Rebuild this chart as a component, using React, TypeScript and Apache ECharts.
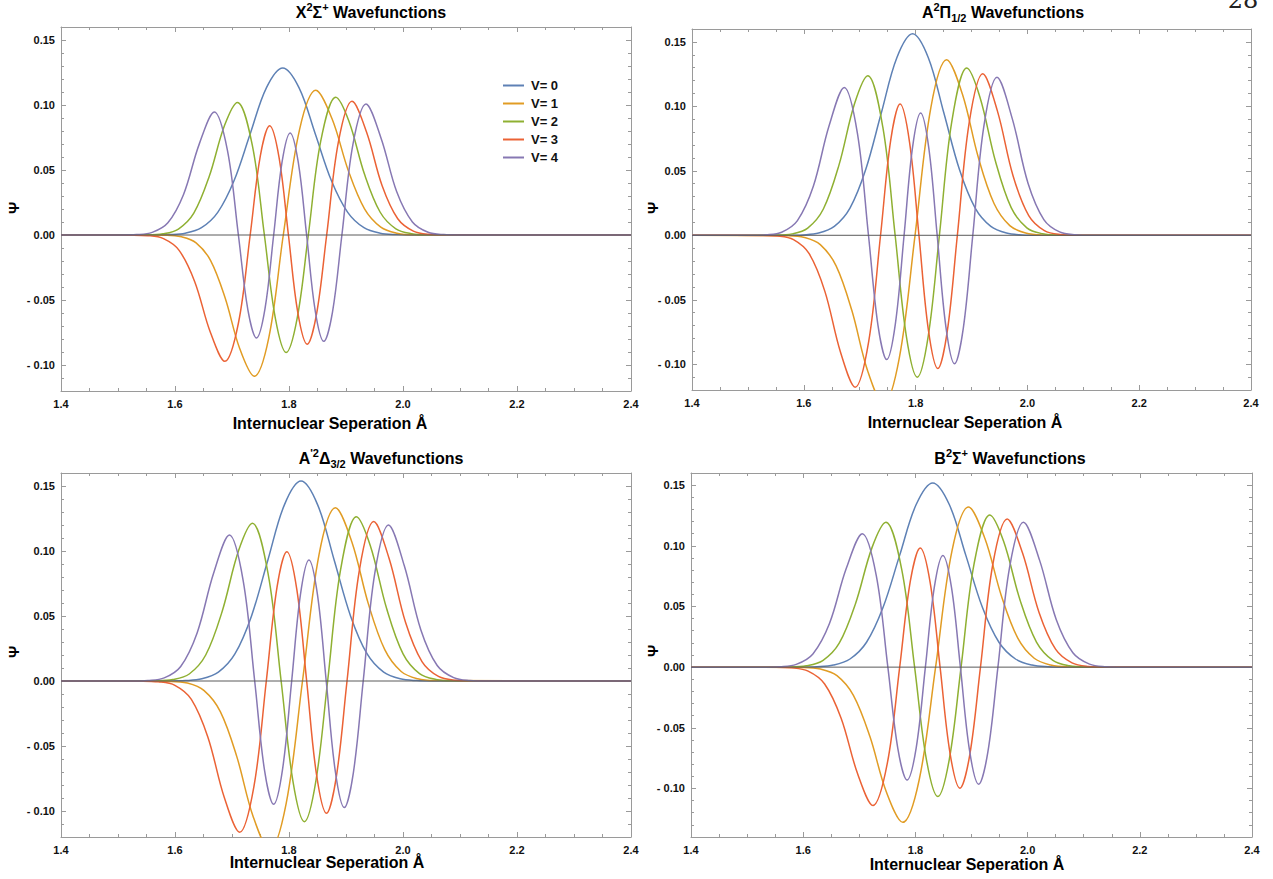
import React, { useEffect, useRef } from 'react';
import * as echarts from 'echarts';

// ---------- labels ----------
const legendNames = ['V= 0', 'V= 1', 'V= 2', 'V= 3', 'V= 4'];
const panelTitles = [
  '{b|X}{sup|2}{b|Σ}{sup|+}{b| Wavefunctions}',
  '{b|A}{sup|2}{b|Π}{sub|1/2}{b| Wavefunctions}',
  "{b|A}{sup|'2}{b|Δ}{sub|3/2}{b| Wavefunctions}",
  '{b|B}{sup|2}{b|Σ}{sup|+}{b| Wavefunctions}',
];
const xAxisTitle = 'Internuclear Seperation Å';
const yAxisTitle = 'Ψ';
const xRange = [1.4, 2.4];
const yRanges = [[-0.12, 0.16], [-0.12, 0.16], [-0.12, 0.16], [-0.14, 0.16]];

// ---------- X2Σ+ ----------
const xSigmaV0 = [[1.4,0],[1.561,0],[1.5895,0.0003],[1.618,0.0014],[1.6465,0.0056],[1.675,0.0174],[1.7035,0.0417],[1.732,0.0779],[1.7605,0.1134],[1.789,0.1285],[1.8175,0.1134],[1.846,0.0779],[1.8745,0.0417],[1.903,0.0174],[1.9315,0.0056],[1.96,0.0014],[1.9885,0.0003],[2.017,0],[2.4,0]];
const xSigmaV1 = [[1.4,0],[1.586,-0.0002],[1.6115,-0.0014],[1.637,-0.006],[1.6625,-0.0197],[1.688,-0.0485],[1.7135,-0.0873],[1.739,-0.1087],[1.7645,-0.0791],[1.79,0],[1.8185,0.081],[1.847,0.1113],[1.8755,0.0894],[1.904,0.0496],[1.9325,0.0201],[1.961,0.0061],[1.9895,0.0014],[2.018,0.0002],[2.4,0]];
const xSigmaV2 = [[1.4,0],[1.552,0.0001],[1.579,0.0009],[1.606,0.0046],[1.633,0.0168],[1.66,0.045],[1.687,0.0844],[1.7096,0.102],[1.7356,0.0691],[1.7568,0],[1.7761,-0.0641],[1.795,-0.0903],[1.8143,-0.0641],[1.8339,0],[1.8555,0.0718],[1.882,0.106],[1.905,0.0877],[1.9325,0.0467],[1.96,0.0175],[1.9875,0.0048],[2.015,0.001],[2.0425,0.0001],[2.4,0]];
const xSigmaV3 = [[1.4,0],[1.525,-0.0001],[1.5524,-0.0005],[1.5798,-0.0028],[1.6072,-0.0118],[1.6346,-0.0359],[1.662,-0.0748],[1.6875,-0.0972],[1.7113,-0.0677],[1.7319,0],[1.7497,0.0609],[1.766,0.084],[1.7826,0.0595],[1.799,0],[1.8154,-0.0595],[1.832,-0.084],[1.8483,-0.0609],[1.8661,0],[1.8867,0.0716],[1.9105,0.1028],[1.936,0.0792],[1.9634,0.0379],[1.9908,0.0125],[2.0182,0.003],[2.0456,0.0005],[2.073,0.0001],[2.4,0]];
const xSigmaV4 = [[1.4,0],[1.505,0],[1.5325,0.0003],[1.56,0.002],[1.5875,0.0094],[1.615,0.0312],[1.6425,0.0699],[1.669,0.0946],[1.692,0.0651],[1.7112,0],[1.7278,-0.0574],[1.7429,-0.0792],[1.758,-0.0564],[1.7731,0],[1.7877,0.0558],[1.802,0.0785],[1.8163,0.0558],[1.8309,0],[1.846,-0.0583],[1.8611,-0.0818],[1.8763,-0.0593],[1.8928,0],[1.912,0.0694],[1.935,0.1008],[1.9615,0.0745],[1.989,0.0332],[2.0165,0.01],[2.044,0.0021],[2.0715,0.0003],[2.099,0],[2.4,0]];

// ---------- A2Π1/2 ----------
const aPiV0 = [[1.4,0],[1.5706,0],[1.5986,0.0003],[1.6266,0.0017],[1.6546,0.0069],[1.6826,0.0211],[1.7106,0.0508],[1.7386,0.0948],[1.7666,0.1379],[1.7946,0.1563],[1.8226,0.1379],[1.8506,0.0948],[1.8786,0.0508],[1.9066,0.0211],[1.9346,0.0069],[1.9626,0.0017],[1.9906,0.0003],[2.0186,0],[2.4,0]];
const aPiV1 = [[1.4,0],[1.573,-0.0003],[1.6013,-0.0017],[1.6295,-0.0072],[1.6578,-0.0237],[1.686,-0.0584],[1.7143,-0.1052],[1.7425,-0.131],[1.7708,-0.0953],[1.799,0],[1.8273,0.0991],[1.8555,0.1362],[1.8838,0.1094],[1.912,0.0607],[1.9403,0.0247],[1.9685,0.0075],[1.9968,0.0017],[2.025,0.0003],[2.4,0]];
const aPiV2 = [[1.4,0],[1.551,0.0002],[1.579,0.0011],[1.607,0.0056],[1.635,0.0204],[1.663,0.0546],[1.691,0.1024],[1.7145,0.1238],[1.7414,0.0838],[1.7634,0],[1.7834,-0.0782],[1.803,-0.1101],[1.8226,-0.0782],[1.8426,0],[1.8646,0.0878],[1.8915,0.1297],[1.915,0.1073],[1.943,0.0572],[1.971,0.0214],[1.999,0.0058],[2.027,0.0012],[2.055,0.0002],[2.4,0]];
const aPiV3 = [[1.4,0],[1.5255,-0.0001],[1.5535,-0.0006],[1.5816,-0.0034],[1.6096,-0.0143],[1.6377,-0.0435],[1.6657,-0.0907],[1.6919,-0.1178],[1.7162,-0.082],[1.7373,0],[1.7555,0.0738],[1.7722,0.1018],[1.7892,0.0721],[1.806,0],[1.8228,-0.0732],[1.8398,-0.1034],[1.8565,-0.075],[1.8747,0],[1.8958,0.0872],[1.9201,0.1253],[1.9463,0.0965],[1.9743,0.0462],[2.0024,0.0152],[2.0304,0.0036],[2.0585,0.0006],[2.0865,0.0001],[2.4,0]];
const aPiV4 = [[1.4,0],[1.5039,0],[1.5321,0.0004],[1.5604,0.0024],[1.5886,0.0114],[1.6169,0.0378],[1.6451,0.0847],[1.6724,0.1147],[1.696,0.0789],[1.7157,0],[1.7327,-0.0698],[1.7483,-0.0964],[1.7638,-0.0687],[1.7794,0],[1.7943,0.0674],[1.809,0.0948],[1.8237,0.0674],[1.8386,0],[1.8542,-0.071],[1.8697,-0.0997],[1.8853,-0.0722],[1.9023,0],[1.922,0.0843],[1.9456,0.1225],[1.9729,0.0905],[2.0011,0.0404],[2.0294,0.0122],[2.0576,0.0026],[2.0859,0.0004],[2.1141,0],[2.4,0]];

// ---------- A'2Δ3/2 ----------
const aDeltaV0 = [[1.4,0],[1.5891,0],[1.6181,0.0003],[1.6471,0.0017],[1.6761,0.0068],[1.7051,0.0208],[1.7341,0.0499],[1.7631,0.0933],[1.7921,0.1357],[1.8211,0.1538],[1.8501,0.1357],[1.8791,0.0933],[1.9081,0.0499],[1.9371,0.0208],[1.9661,0.0068],[1.9951,0.0017],[2.0241,0.0003],[2.0531,0],[2.4,0]];
const aDeltaV1 = [[1.4,0],[1.5929,-0.0003],[1.6218,-0.0016],[1.6506,-0.0072],[1.6795,-0.0235],[1.7083,-0.058],[1.7372,-0.1044],[1.766,-0.13],[1.7949,-0.0946],[1.8237,0],[1.8526,0.097],[1.8814,0.1333],[1.9103,0.107],[1.9391,0.0595],[1.968,0.0241],[1.9968,0.0073],[2.0257,0.0017],[2.0545,0.0003],[2.4,0]];
const aDeltaV2 = [[1.4,0],[1.5673,0.0002],[1.5962,0.0011],[1.625,0.0054],[1.6539,0.02],[1.6827,0.0535],[1.7116,0.1003],[1.7358,0.1213],[1.7635,0.0821],[1.7862,0],[1.8068,-0.0768],[1.827,-0.1082],[1.8472,-0.0768],[1.8678,0],[1.8905,0.0856],[1.9182,0.1264],[1.9424,0.1045],[1.9713,0.0557],[2.0001,0.0209],[2.029,0.0057],[2.0578,0.0012],[2.0867,0.0002],[2.4,0]];
const aDeltaV3 = [[1.4,0],[1.542,-0.0001],[1.5709,-0.0006],[1.5998,-0.0033],[1.6287,-0.0141],[1.6576,-0.043],[1.6865,-0.0896],[1.7134,-0.1164],[1.7385,-0.081],[1.7602,0],[1.779,0.0722],[1.7962,0.0995],[1.8137,0.0705],[1.831,0],[1.8483,-0.0721],[1.8658,-0.1018],[1.883,-0.0738],[1.9018,0],[1.9235,0.0853],[1.9486,0.1226],[1.9755,0.0944],[2.0044,0.0452],[2.0333,0.0149],[2.0622,0.0035],[2.0911,0.0006],[2.12,0.0001],[2.4,0]];
const aDeltaV4 = [[1.4,0],[1.5234,0],[1.5523,0.0004],[1.5811,0.0024],[1.61,0.0112],[1.6388,0.037],[1.6677,0.0829],[1.6955,0.1123],[1.7196,0.0773],[1.7398,0],[1.7571,-0.0688],[1.773,-0.0949],[1.7888,-0.0676],[1.8047,0],[1.82,0.0662],[1.835,0.0931],[1.85,0.0662],[1.8653,0],[1.8812,-0.0694],[1.897,-0.0974],[1.9129,-0.0706],[1.9302,0],[1.9504,0.0826],[1.9745,0.12],[2.0023,0.0886],[2.0312,0.0395],[2.06,0.0119],[2.0889,0.0026],[2.1177,0.0004],[2.1466,0],[2.4,0]];

// ---------- B2Σ+ ----------
const bSigmaV0 = [[1.4,0],[1.5949,0],[1.6244,0.0003],[1.6539,0.0017],[1.6834,0.0067],[1.7129,0.0205],[1.7424,0.0493],[1.7719,0.0921],[1.8014,0.134],[1.8309,0.1518],[1.8604,0.134],[1.8899,0.0921],[1.9194,0.0493],[1.9489,0.0205],[1.9784,0.0067],[2.0079,0.0017],[2.0374,0.0003],[2.0669,0],[2.4,0]];
const bSigmaV1 = [[1.4,0],[1.6016,-0.0003],[1.6309,-0.0016],[1.6602,-0.007],[1.6895,-0.0232],[1.7188,-0.057],[1.7481,-0.1027],[1.7774,-0.1279],[1.8067,-0.093],[1.836,0],[1.8653,0.096],[1.8946,0.132],[1.9239,0.106],[1.9532,0.0589],[1.9825,0.0239],[2.0118,0.0073],[2.0411,0.0017],[2.0704,0.0003],[2.4,0]];
const bSigmaV2 = [[1.4,0],[1.5763,0.0002],[1.6056,0.0011],[1.6349,0.0054],[1.6642,0.0197],[1.6935,0.0527],[1.7228,0.0987],[1.7474,0.1194],[1.7755,0.0808],[1.7986,0],[1.8195,-0.0758],[1.84,-0.1067],[1.8605,-0.0758],[1.8814,0],[1.9045,0.0849],[1.9326,0.1254],[1.9572,0.1037],[1.9865,0.0553],[2.0158,0.0207],[2.0451,0.0056],[2.0744,0.0011],[2.1037,0.0002],[2.4,0]];
const bSigmaV3 = [[1.4,0],[1.55,-0.0001],[1.5794,-0.0006],[1.6088,-0.0033],[1.6382,-0.0139],[1.6676,-0.0421],[1.697,-0.0879],[1.7244,-0.1141],[1.7499,-0.0794],[1.772,0],[1.7911,0.0712],[1.8086,0.0982],[1.8264,0.0695],[1.844,0],[1.8616,-0.0706],[1.8794,-0.0998],[1.8969,-0.0723],[1.916,0],[1.9381,0.085],[1.9636,0.1221],[1.991,0.094],[2.0204,0.0451],[2.0498,0.0148],[2.0792,0.0035],[2.1086,0.0006],[2.138,0.0001],[2.4,0]];
const bSigmaV4 = [[1.4,0],[1.5282,0],[1.5579,0.0004],[1.5876,0.0023],[1.6173,0.0109],[1.647,0.0362],[1.6767,0.0812],[1.7054,0.11],[1.7302,0.0757],[1.7509,0],[1.7688,-0.0674],[1.7852,-0.093],[1.8015,-0.0663],[1.8178,0],[1.8336,0.0655],[1.849,0.0921],[1.8644,0.0655],[1.8802,0],[1.8965,-0.0687],[1.9128,-0.0965],[1.9292,-0.0699],[1.9471,0],[1.9678,0.0821],[1.9926,0.1194],[2.0213,0.0882],[2.051,0.0393],[2.0807,0.0119],[2.1104,0.0025],[2.1401,0.0004],[2.1698,0],[2.4,0]];

const panelData = [
  [xSigmaV0, xSigmaV1, xSigmaV2, xSigmaV3, xSigmaV4],
  [aPiV0, aPiV1, aPiV2, aPiV3, aPiV4],
  [aDeltaV0, aDeltaV1, aDeltaV2, aDeltaV3, aDeltaV4],
  [bSigmaV0, bSigmaV1, bSigmaV2, bSigmaV3, bSigmaV4],
];

// ---------- styling / layout ----------
const COLORS = ['#5E81B5', '#E19C24', '#8FB032', '#EB6235', '#8778B3'];
const NARROW = '"Liberation Sans Narrow", "Arial Narrow", "Liberation Sans", Arial, sans-serif';
const SANS = '"Liberation Sans", Arial, sans-serif';
const FRAME = '#9a9a9a';

const GRIDS = [
  { left: 61, top: 27, width: 570, height: 364 },
  { left: 692, top: 29, width: 559, height: 361 },
  { left: 61, top: 473, width: 570, height: 364 },
  { left: 691, top: 473, width: 561, height: 364 },
];
const TITLE_POS = [[371, 12], [1003, 12], [381, 458], [1010, 458]];
const XNAME_POS = [[330, 423], [965, 422], [327, 862], [967, 864]];
const YNAME_POS = [[13, 208], [652, 208], [13, 652], [652, 651]];

function yFmt(v: number) {
  if (Math.abs(v) < 1e-9) return '0.00';
  return v < 0 ? '- ' + Math.abs(v).toFixed(2) : v.toFixed(2);
}

function buildOption() {
  const grid: any[] = [];
  const xAxis: any[] = [];
  const yAxis: any[] = [];
  const series: any[] = [];
  const graphic: any[] = [];

  const tickCommon = {
    axisLine: { show: true, onZero: false, lineStyle: { color: FRAME, width: 1 } },
    axisTick: { show: true, inside: true, length: 5, lineStyle: { color: FRAME, width: 1 } },
    splitLine: { show: false },
  };

  const titleRich = {
    b: { fontSize: 16, fontWeight: 'bold', fontFamily: SANS, fill: '#000', lineHeight: 22 },
    sup: { fontSize: 11, fontWeight: 'bold', fontFamily: SANS, fill: '#000', lineHeight: 12, verticalAlign: 'top' },
    sub: { fontSize: 11, fontWeight: 'bold', fontFamily: SANS, fill: '#000', lineHeight: 12, verticalAlign: 'bottom' },
  };

  GRIDS.forEach((g, i) => {
    grid.push({ ...g, containLabel: false, outerBoundsMode: 'none' });
    const xBase = {
      gridIndex: i, type: 'value', min: xRange[0], max: xRange[1], interval: 0.2,
      ...tickCommon,
      minorTick: { show: true, splitNumber: 4, length: 3, lineStyle: { color: FRAME, width: 1 } },
    };
    xAxis.push({
      ...xBase, position: 'bottom',
      axisLabel: { show: true, margin: 7, fontSize: 11, fontWeight: 'bold', fontFamily: NARROW, color: '#111', formatter: (v: number) => v.toFixed(1) },
    });
    xAxis.push({ ...xBase, position: 'top', axisLabel: { show: false } });
    const yBase = {
      gridIndex: i, type: 'value', min: yRanges[i][0], max: yRanges[i][1], splitNumber: 5,
      ...tickCommon,
      minorTick: { show: true, splitNumber: 5, length: 3, lineStyle: { color: FRAME, width: 1 } },
    };
    yAxis.push({
      ...yBase, position: 'left',
      axisLabel: { show: true, margin: 6, fontSize: 11, fontWeight: 'bold', fontFamily: NARROW, color: '#111', formatter: yFmt, showMinLabel: false, showMaxLabel: false },
    });
    yAxis.push({ ...yBase, position: 'right', axisLabel: { show: false } });

    panelData[i].forEach((d, v) => {
      series.push({
        type: 'line', name: legendNames[v], xAxisIndex: 2 * i, yAxisIndex: 2 * i,
        data: d, smooth: 0.35, symbol: 'none', showSymbol: false, clip: true,
        color: COLORS[v], lineStyle: { color: COLORS[v], width: 1.5 }, itemStyle: { color: COLORS[v] },
        emphasis: { disabled: true }, silent: true, z: 2,
      });
    });
    series.push({
      type: 'line', name: 'axis' + i, xAxisIndex: 2 * i, yAxisIndex: 2 * i,
      data: [[xRange[0], 0], [xRange[1], 0]], symbol: 'none', silent: true,
      lineStyle: { color: '#5a5a5a', width: 1 }, z: 3,
    });

    graphic.push({
      type: 'text', x: TITLE_POS[i][0], y: TITLE_POS[i][1],
      style: { text: panelTitles[i], align: 'center', verticalAlign: 'middle', fill: '#000', rich: titleRich },
    });
    graphic.push({
      type: 'text', x: XNAME_POS[i][0], y: XNAME_POS[i][1],
      style: { text: xAxisTitle, font: `bold 16px ${NARROW}`, fill: '#000', align: 'center', verticalAlign: 'middle' },
    });
    graphic.push({
      type: 'text', x: YNAME_POS[i][0], y: YNAME_POS[i][1], rotation: Math.PI / 2,
      style: { text: yAxisTitle, font: `bold 15px ${SANS}`, fill: '#000', align: 'center', verticalAlign: 'middle' },
    });
  });

  graphic.push({
    type: 'text', x: 1243, y: 12,
    style: { text: '28', font: '24px "DejaVu Serif", "Liberation Serif", serif', fill: '#222', align: 'center', verticalAlign: 'bottom' },
  });

  return {
    animation: false,
    backgroundColor: '#ffffff',
    grid, xAxis, yAxis, series, graphic,
    legend: {
      show: true, data: legendNames, orient: 'vertical', left: 503, top: 79, padding: 0,
      icon: 'rect', itemWidth: 21, itemHeight: 2, itemGap: 5, selectedMode: false,
      textStyle: { fontSize: 13, fontWeight: 'bold', fontFamily: SANS, color: '#111', lineHeight: 12, padding: [0, 0, 0, 2] },
    },
  };
}

export default function App() {
  const ref = useRef<HTMLDivElement>(null);
  useEffect(() => {
    if (!ref.current) return;
    const chart = echarts.init(ref.current, null, { renderer: 'svg' });
    chart.setOption(buildOption() as any);
    return () => chart.dispose();
  }, []);
  return (
    <div
      ref={ref}
      style={{ position: 'absolute', left: 0, top: 0, width: 1273, height: 879, background: '#fff' }}
    />
  );
}
